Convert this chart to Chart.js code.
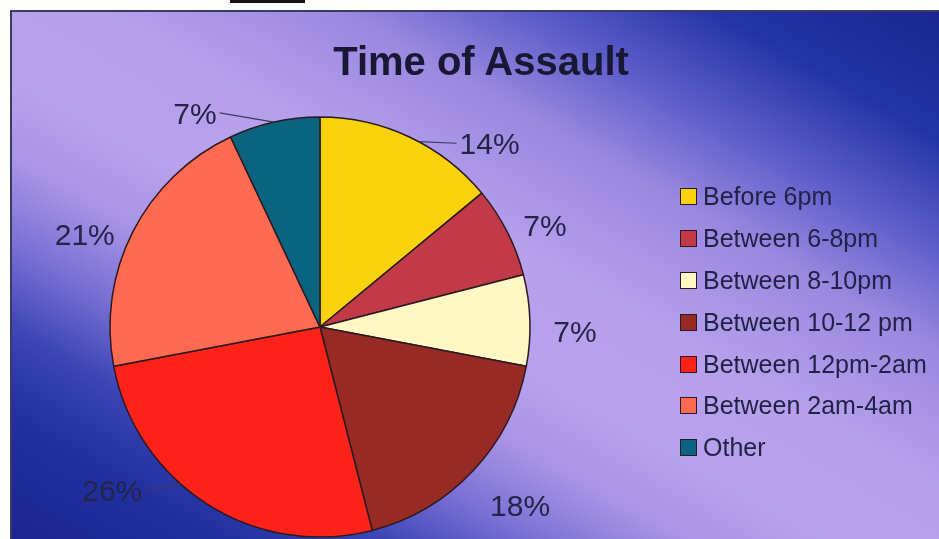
<!DOCTYPE html>
<html>
<head>
<meta charset="utf-8">
<title>Time of Assault</title>
<script src="https://cdn.jsdelivr.net/npm/chart.js@4.4.0/dist/chart.umd.min.js"></script>
<style>
  html, body { margin: 0; padding: 0; background: #fdfdfb; }
  #wrap { position: relative; width: 939px; height: 539px; overflow: hidden; background: #fdfdfb; }
  #bar { position: absolute; left: 230px; top: 0; width: 75px; height: 3px; background: #151515; }
  #slide {
    position: absolute; left: 10px; top: 10px; right: 0; bottom: 0;
    border-left: 2px solid #3c3c5e; border-top: 2px solid #3c3c5e;
    background: linear-gradient(to bottom left,
      #1a2690 0%, #2434a6 12%, #5a5cc8 22%, #9a88e0 32%, #b6a0ec 45%,
      #b8a2ec 56%, #a894e6 64%, #7a70d4 72%, #3c46b6 80%, #2230a0 88%, #1a2590 100%);
  }
  #chart { position: absolute; left: 0; top: 0; }
  #title {
    position: absolute; left: 181px; top: 38px; width: 600px; text-align: center;
    font: bold 40px "Liberation Sans", Arial, sans-serif; line-height: 46px; color: #181834;
  }
  #legend {
    position: absolute; left: 680px; top: 176px; margin: 0; padding: 0; list-style: none;
    font: 25px "Liberation Sans", Arial, sans-serif; color: #222246;
  }
  #legend li { display: flex; align-items: center; height: 41.8px; white-space: nowrap; }
  #legend .box { width: 15px; height: 15px; border: 1.5px solid #2a1a28; margin-right: 6px; flex: none; }
</style>
</head>
<body>
<div id="wrap">
  <div id="bar"></div>
  <div id="slide"></div>
  <canvas id="chart" width="939" height="539"></canvas>
  <div id="title">Time of Assault</div>
  <ul id="legend"></ul>
</div>
<script>
// データ
const categories = ['Before 6pm', 'Between 6-8pm', 'Between 8-10pm', 'Between 10-12 pm', 'Between 12pm-2am', 'Between 2am-4am', 'Other'];
const percentages = [14, 7, 7, 18, 26, 21, 7];
const sliceColors = ['#f8d20c', '#c23a48', '#fff8c4', '#982a26', '#ff2218', '#ff6a50', '#0a6480'];

// ラベル位置の微調整 (角度のずれ[度], 外側への距離[px], 引き出し線の角度ずれ or null)
const labelNudge = [
    [17.5, 40, 2.8],
    [2.6, 37, null],
    [2.8, 45, null],
    [-1.5, 58, null],
    [19.5, 54, 9.2],
    [-5.4, 43, null],
    [-17.7, 38, 0]
];

// パーセント表示プラグイン
const percentLabels = {
    id: 'percentLabels',
    afterDatasetsDraw(chart) {
        const ctx = chart.ctx;
        const meta = chart.getDatasetMeta(0);
        ctx.save();
        ctx.font = '30px "Liberation Sans", Arial, sans-serif';
        ctx.fillStyle = '#242448';
        ctx.strokeStyle = '#3a3a5c';
        ctx.lineWidth = 1.2;
        ctx.textAlign = 'center';
        ctx.textBaseline = 'alphabetic';
        meta.data.forEach((arc, i) => {
            const p = arc.getProps(['x', 'y', 'startAngle', 'endAngle', 'outerRadius'], true);
            const mid = (p.startAngle + p.endAngle) / 2;
            const [da, dr, leader] = labelNudge[i];
            const ang = mid + da * Math.PI / 180;
            const r = p.outerRadius + dr;
            const lx = p.x + r * Math.cos(ang);
            const ly = p.y + r * Math.sin(ang);
            const text = percentages[i] + '%';
            const w = ctx.measureText(text).width;
            ctx.fillText(text, lx, ly + 10.7);
            if (leader !== null) {
                const ea = mid + leader * Math.PI / 180;
                const ex = p.x + p.outerRadius * Math.cos(ea);
                const ey = p.y + p.outerRadius * Math.sin(ea);
                const sx = ex > lx ? lx + w / 2 + 3 : lx - w / 2 - 3;
                ctx.beginPath();
                ctx.moveTo(sx, ly);
                ctx.lineTo(ex, ey);
                ctx.stroke();
            }
        });
        ctx.restore();
    }
};

const chart = new Chart(document.getElementById('chart'), {
    type: 'pie',
    data: {
        labels: categories,
        datasets: [{
            data: percentages,
            backgroundColor: sliceColors,
            borderColor: '#2b1a22',
            borderWidth: 1.5,
            radius: 210
        }]
    },
    options: {
        responsive: false,
        animation: false,
        layout: {
            padding: { left: 110, right: 409, top: 117, bottom: 2 }
        },
        plugins: {
            legend: { display: false },
            title: { display: false },
            tooltip: { enabled: false }
        }
    },
    plugins: [percentLabels]
});

// HTMLの凡例
const legendEl = document.getElementById('legend');
categories.forEach((name, i) => {
    const li = document.createElement('li');
    const box = document.createElement('span');
    box.className = 'box';
    box.style.background = sliceColors[i];
    li.appendChild(box);
    li.appendChild(document.createTextNode(name));
    legendEl.appendChild(li);
});
</script>
</body>
</html>
